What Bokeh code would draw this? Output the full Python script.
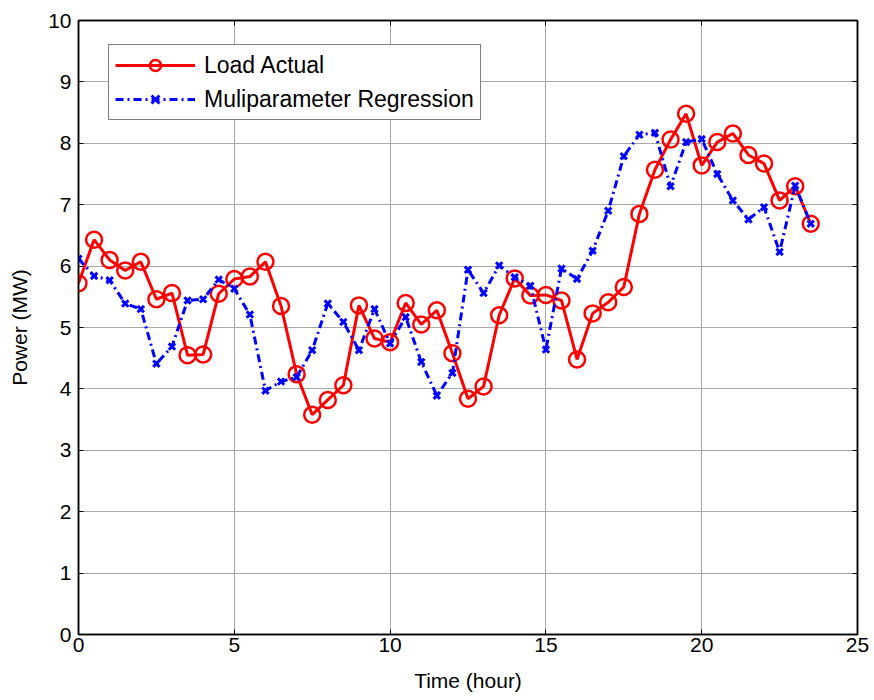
from bokeh.plotting import figure
from bokeh.models import LinearAxis, FixedTicker, Range1d, CustomLabelingPolicy
from bokeh.embed import file_html
from bokeh.resources import INLINE

# Half-hourly samples over one day
hours = [i * 0.5 for i in range(48)]

load_actual = [
    5.72, 6.43, 6.10, 5.93, 6.07, 5.46, 5.56, 4.55, 4.56, 5.55,
    5.79, 5.83, 6.07, 5.35, 4.24, 3.58, 3.82, 4.06, 5.36, 4.82,
    4.76, 5.40, 5.05, 5.28, 4.58, 3.84, 4.04, 5.20, 5.80, 5.52,
    5.53, 5.44, 4.48, 5.23, 5.41, 5.66, 6.85, 7.57, 8.06, 8.48,
    7.64, 8.02, 8.16, 7.81, 7.67, 7.07, 7.30, 6.69,
]

regression = [
    6.12, 5.84, 5.77, 5.39, 5.30, 4.41, 4.69, 5.44, 5.46, 5.78,
    5.63, 5.21, 3.97, 4.12, 4.19, 4.63, 5.39, 5.09, 4.63, 5.30,
    4.74, 5.17, 4.44, 3.89, 4.26, 5.94, 5.56, 6.01, 5.82, 5.68,
    4.64, 5.96, 5.79, 6.25, 6.90, 7.79, 8.14, 8.17, 7.30, 8.02,
    8.07, 7.50, 7.07, 6.76, 6.96, 6.23, 7.31, 6.69,
]

x_ticks = [0, 5, 10, 15, 20, 25]
y_ticks = list(range(0, 11))

FONT = "Liberation Sans"

p = figure(
    width=874, height=700,
    x_range=Range1d(0, 25), y_range=Range1d(0, 10),
    output_backend="svg", toolbar_location=None,
    min_border_left=78, min_border_right=17,
    min_border_top=20, min_border_bottom=66,
    background_fill_color="white", border_fill_color="white",
)
p.outline_line_color = "black"
p.outline_line_width = 1.5

bottom_axis = p.below[0]
left_axis = p.left[0]

bottom_axis.ticker = FixedTicker(ticks=x_ticks)
left_axis.ticker = FixedTicker(ticks=y_ticks)
p.xgrid.ticker = FixedTicker(ticks=x_ticks)
p.ygrid.ticker = FixedTicker(ticks=y_ticks)
for g in (p.xgrid, p.ygrid):
    g.grid_line_color = "#a8a8a8"
    g.grid_line_width = 1

bottom_axis.axis_label = "Time (hour)"
left_axis.axis_label = "Power (MW)"

# Mirror axes on top and right carry the inward tick marks only (no labels)
no_labels = CustomLabelingPolicy(code="""
    for (const i of Array.from(indices)) indices.unset(i)
    return indices
""")
top_axis = LinearAxis(ticker=FixedTicker(ticks=x_ticks), major_label_policy=no_labels)
right_axis = LinearAxis(ticker=FixedTicker(ticks=y_ticks), major_label_policy=no_labels)
p.add_layout(top_axis, "above")
p.add_layout(right_axis, "right")

for ax in (bottom_axis, left_axis, top_axis, right_axis):
    ax.axis_line_color = "black"
    ax.axis_line_width = 1.5
    ax.major_tick_in = 5
    ax.major_tick_out = 0
    ax.major_tick_line_color = "black"
    ax.minor_tick_line_color = None
    ax.major_label_text_font = FONT
    ax.major_label_text_color = "black"
    ax.major_label_text_font_size = "21px"
    ax.axis_label_text_font = FONT
    ax.axis_label_text_font_style = "normal"
    ax.axis_label_text_color = "black"
    ax.axis_label_text_font_size = "21px"

for ax in (top_axis, right_axis):
    ax.major_label_standoff = 0
    ax.major_label_text_font_size = "2px"

bottom_axis.major_label_standoff = 3
bottom_axis.axis_label_standoff = 14
left_axis.major_label_standoff = 7
left_axis.axis_label_standoff = 14

# Measured load: solid red with open circles
p.line(hours, load_actual, line_color="red", line_width=3, legend_label="Load Actual")
p.scatter(hours, load_actual, marker="circle", size=16, fill_color=None,
          line_color="red", line_width=2.5, legend_label="Load Actual")

# Model output: blue dash-dot with crosses
p.line(hours, regression, line_color="blue", line_width=3, line_dash="8 4 2 4",
       legend_label="Muliparameter Regression")
p.scatter(hours, regression, marker="x", size=9, line_color="blue",
          line_width=3, legend_label="Muliparameter Regression")

legend = p.legend[0]
legend.location = (30, 514)
legend.label_text_font = FONT
legend.label_text_font_size = "23px"
legend.label_text_color = "black"
legend.glyph_width = 80
legend.glyph_height = 28
legend.label_height = 28
legend.spacing = 6
legend.padding = 6
legend.margin = 0
legend.label_standoff = 9
legend.border_line_color = "black"
legend.border_line_width = 1
legend.background_fill_alpha = 1.0

open("out.html", "w").write(file_html(p, INLINE))
